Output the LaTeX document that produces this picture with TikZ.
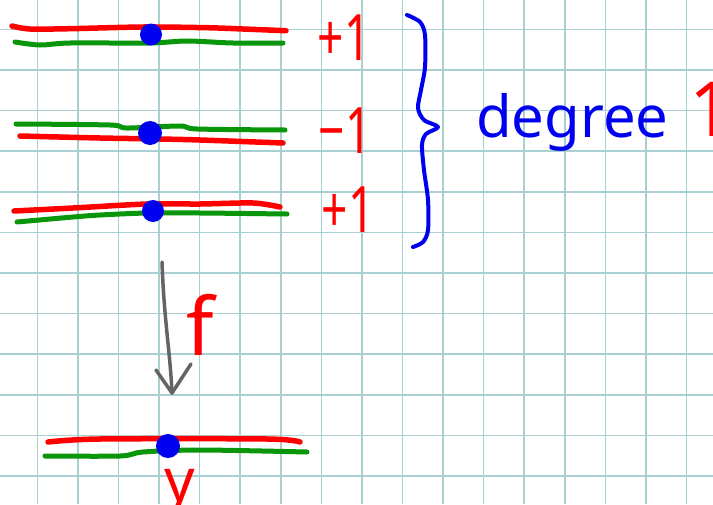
\documentclass[tikz,border=0pt]{standalone}
\usepackage{fontspec}
\setmainfont{Noto Sans}
\definecolor{gridc}{RGB}{168,208,208}
\definecolor{pred}{RGB}{255,0,0}
\definecolor{pgreen}{RGB}{10,150,10}
\definecolor{pblue}{RGB}{0,0,240}
\definecolor{pgray}{RGB}{100,100,100}
\begin{document}
\begin{tikzpicture}[x=1pt,y=-1pt,
  redline/.style={draw=pred,line width=5.5pt,line cap=round,line join=round},
  greenline/.style={draw=pgreen,line width=5pt,line cap=round,line join=round},
  dot/.style={circle,fill=pblue,minimum size=22pt,inner sep=0pt},
  lbl/.style={text=pred,inner sep=0pt,font=\fontsize{64}{70}\selectfont},
  gridline/.style={draw=gridc,line width=1.6pt}]
\fill[white] (0,0) rectangle (713,504);
\useasboundingbox (0,0) rectangle (713,504);
\begin{scope}
\clip (0,0) rectangle (713,504);
\foreach \i in {0,...,16} \draw[gridline] ({37.4+40.57*\i},0) -- ++(0,504);
\foreach \i in {0,...,11} \draw[gridline] (0,{29.3+40.6*\i}) -- ++(713,0);

% row 1
\draw[redline] plot[smooth] coordinates {(12,26) (30,29) (70,28.7) (143,27) (207,27.7) (243,29) (286,30.7)};
\draw[greenline] plot[smooth] coordinates {(15,42) (40,45) (70,43) (150,43) (187,41) (233,43) (283,43)};
\node[dot] (d1) at (151,34.5) {};
% row 2
\draw[greenline] plot[smooth] coordinates {(16,124) (110,125) (127,128) (180,126) (197,129) (285,130)};
\draw[redline] plot[smooth] coordinates {(20,136) (100,138) (160,139) (200,140) (283,143)};
\node[dot,minimum size=24pt] (d2) at (150,133) {};
% row 3
\draw[redline] plot[smooth] coordinates {(14,211) (73,208) (147,204) (200,204) (253,203) (280,207)};
\draw[greenline] plot[smooth] coordinates {(17,222) (73,217) (100,215) (147,213) (200,213) (287,214)};
\node[dot] (d3) at (153,211) {};
% bottom row
\draw[redline] plot[smooth] coordinates {(48,442) (100,439) (267,439) (300,442)};
\draw[greenline] plot[smooth] coordinates {(45,456) (120,456) (143,452) (200,450) (307,452)};
\node[dot,minimum size=24pt] (d4) at (168,446) {};

% labels
\node[lbl,anchor=base] (l1) at (344,60) {\scalebox{0.72}[1]{+1}};
\node[lbl,anchor=base] (l2) at (345,153) {\scalebox{0.72}[1]{−1}};
\node[lbl,anchor=base] (l3) at (348,232) {\scalebox{0.72}[1]{+1}};
\node[text=pblue,inner sep=0pt,anchor=base west,font=\fontsize{58}{62}\selectfont] (deg) at (476,137) {degree};
\node[lbl,anchor=base west,font=\fontsize{76}{80}\selectfont] (one) at (689,136) {1};
\node[lbl,anchor=base,font=\fontsize{80}{86}\selectfont] (f) at (200,355) {f};
\node[lbl,anchor=base,font=\fontsize{60}{66}\selectfont] (y) at (180,501) {y};

% brace
\draw[pblue,line width=4pt,line cap=round,line join=round] plot[smooth] coordinates {(407,15) (420,22) (425,35) (425,67) (421,90) (418,108) (424,120) (438,127) (426,134) (422,145) (424,170) (428,200) (428,230) (423,242) (413,247)};

% arrow f
\coordinate (ftop) at (162,262);
\coordinate (fbot) at (172,393);
\draw[pgray,line width=3.5pt,line cap=round,line join=round] (ftop) .. controls (164,320) and (170,350) .. (fbot);
\draw[pgray,line width=3.5pt,line cap=round,line join=round] (fbot) ++(-16,-23) -- (fbot) -- ++(19,-29);
\end{scope}
\end{tikzpicture}
\end{document}
